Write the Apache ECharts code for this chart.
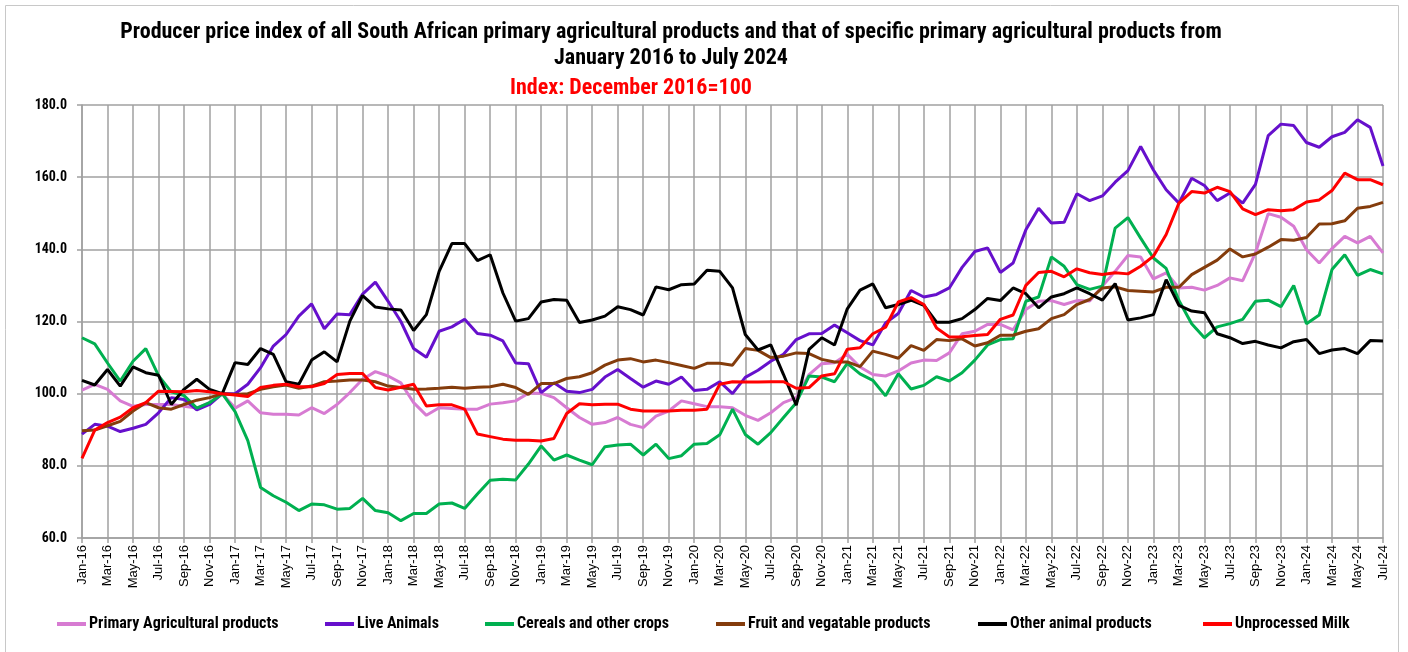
<!DOCTYPE html>
<html>
<head>
<meta charset="utf-8">
<script src="https://cdn.jsdelivr.net/npm/echarts@6/dist/echarts.min.js"></script>
<style>
  html, body { margin: 0; padding: 0; background: #fff; }
  #chart { width: 1408px; height: 652px; }
</style>
</head>
<body>
<div id="chart"></div>
<script>
// Month labels Jan-16 .. Jul-24
const monthNames = ['Jan','Feb','Mar','Apr','May','Jun','Jul','Aug','Sep','Oct','Nov','Dec'];
const months = [];
for (let y = 16; y <= 24; y++) {
  for (let m = 0; m < 12; m++) {
    if (y === 24 && m > 6) break;
    months.push(monthNames[m] + '-' + y);
  }
}

// Index values (December 2016 = 100)
const primaryAgri = [
  101, 102.6, 101.2, 98, 96.5, 97, 97, 97, 96.5, 96, 97.5, 100,
  96, 98, 94.7, 94.3, 94.3, 94.1, 96.1, 94.5, 97, 100.3, 104, 106.1,
  104.9, 103, 97.5, 94, 96.1, 95.9, 95.7, 95.7, 97.1, 97.5, 98, 100.1,
  100.1, 98.9, 96.1, 93.4, 91.5, 92, 93.4, 91.5, 90.6, 93.8, 95.2, 98,
  97.2, 96.4, 96.4, 96.1, 94, 92.6, 94.7, 97.5, 98.9, 105.3, 108.3, 108.6,
  110.9, 107.4, 105.3, 104.9, 106.3, 108.5, 109.3, 109.2, 111.3, 116.6, 117.3, 119.2,
  119.2, 117.7, 123.3, 125.6, 125.8, 124.7, 125.8, 125.7, 129.8, 133.9, 138.3, 137.9,
  131.8, 133.5, 129.3, 129.5, 128.7, 130, 132.1, 131.3, 139, 149.9, 148.9, 146.4,
  139.9, 136.2, 140.2, 143.6, 141.8, 143.6, 139
];
const liveAnimals = [
  88.8, 91.5, 91, 89.5, 90.4, 91.5, 94.7, 98.9, 98.4, 95.5, 97, 100,
  100, 102.6, 107.2, 113.2, 116.4, 121.5, 124.9, 118, 122.1, 121.9, 127.6, 130.9,
  125.6, 120, 112.5, 110.1, 117.3, 118.5, 120.6, 116.7, 116.2, 114.6, 108.5, 108.3,
  100.3, 103, 100.7, 100.3, 101.2, 104.6, 106.7, 104.2, 101.8, 103.5, 102.6, 104.6,
  100.9, 101.2, 103.3, 100, 104.5, 106.5, 109, 110.9, 115, 116.6, 116.7, 119,
  116.9, 114.7, 113.5, 119.6, 122.2, 128.6, 126.8, 127.5, 129.3, 135, 139.4, 140.4,
  133.6, 136.2, 145.4, 151.4, 147.3, 147.5, 155.4, 153.5, 154.8, 158.6, 161.8, 168.5,
  162, 156.5, 152.8, 159.7, 157.7, 153.5, 155.6, 152.8, 158, 171.5, 174.7, 174.3,
  169.6, 168.3, 171.2, 172.4, 175.9, 173.8, 163.1
];
const cereals = [
  115.5, 113.8, 108.5, 103.5, 109, 112.5, 105, 100.5, 99.5, 96, 97.5, 100,
  95, 87, 74, 71.7, 69.9, 67.6, 69.4, 69.2, 68, 68.2, 71, 67.6,
  67, 64.8, 66.8, 66.8, 69.4, 69.7, 68.2, 72.2, 76, 76.3, 76.1, 80.5,
  85.5, 81.6, 83, 81.6, 80.3, 85.3, 85.8, 86, 83, 86, 82, 82.8,
  86, 86.2, 88.6, 95.7, 88.7, 86, 89.2, 93.4, 97.5, 104.9, 104.6, 103.3,
  108.4, 105.5, 103.7, 99.4, 105.5, 101.3, 102.3, 104.7, 103.5, 105.8, 109.3, 113.5,
  115, 115.2, 125.6, 126.8, 137.9, 135.3, 130.2, 128.9, 129.8, 145.9, 148.8, 143.1,
  137.6, 134.7, 125.8, 119.4, 115.5, 118.5, 119.4, 120.6, 125.6, 125.9, 124.1, 130,
  119.4, 121.8, 134.4, 138.5, 132.8, 134.4, 133.2
];
const fruitVeg = [
  89.7, 89.9, 91.1, 92.3, 95.2, 97.5, 96.1, 95.7, 97, 98.2, 98.9, 100,
  99.8, 100, 101.2, 101.9, 102.4, 101.5, 102.1, 103.3, 103.5, 103.8, 103.8, 103.3,
  102.1, 101.7, 101.2, 101.3, 101.5, 101.8, 101.5, 101.8, 101.9, 102.6, 101.7, 99.8,
  102.8, 102.8, 104.2, 104.7, 105.8, 107.9, 109.3, 109.7, 108.8, 109.3, 108.6, 107.8,
  107, 108.4, 108.4, 107.9, 112.5, 112, 110, 110.4, 111.3, 111.1, 109.5, 108.8,
  108.8, 107.5, 111.8, 110.9, 109.8, 113.3, 112, 115, 114.7, 115.2, 113.2, 114.1,
  116.2, 116.2, 117.3, 118, 120.8, 121.9, 124.7, 126.1, 129.3, 129.6, 128.6, 128.4,
  128.2, 129.5, 129.5, 133, 135, 137, 140.1, 137.9, 138.7, 140.6, 142.7, 142.5,
  143.3, 147, 147.1, 147.9, 151.4, 151.9, 153
];
const otherAnimal = [
  103.7, 102.4, 106.7, 102.1, 107.4, 105.8, 105.1, 97, 101.2, 104, 101.2, 100,
  108.6, 108.1, 112.5, 110.9, 103.3, 102.6, 109.3, 111.6, 108.8, 120.1, 127.2, 124,
  123.5, 123.2, 117.5, 121.9, 133.9, 141.6, 141.6, 136.9, 138.5, 127.9, 120.1, 120.8,
  125.4, 126.1, 125.9, 119.7, 120.4, 121.5, 124.1, 123.3, 121.8, 129.6, 128.8, 130.2,
  130.4, 134.2, 133.9, 129.3, 116.4, 112.1, 113.5, 105.3, 96.8, 112.3, 115.5, 113.5,
  123.5, 128.7, 130.4, 123.8, 124.7, 125.9, 124.5, 119.8, 119.8, 120.8, 123.3, 126.4,
  125.8, 129.3, 127.7, 123.8, 126.8, 127.7, 129.3, 127.7, 125.9, 130.5, 120.4, 121,
  121.9, 131.6, 124.5, 122.9, 122.4, 116.6, 115.5, 113.9, 114.5, 113.5, 112.7, 114.4,
  115, 111.1, 112.1, 112.5, 111.1, 114.7, 114.6
];
const milk = [
  82.1, 89.9, 92, 93.5, 96.1, 97.5, 100.7, 100.6, 100.5, 100.9, 100.5, 100,
  99.6, 99.2, 101.7, 102.3, 102.6, 101.9, 101.9, 102.8, 105.3, 105.6, 105.6, 101.7,
  101, 101.8, 102.6, 96.6, 96.9, 96.9, 95.7, 88.8, 88.1, 87.4, 87.1, 87.1,
  86.9, 87.6, 94.5, 97.2, 96.9, 97.1, 97.1, 95.7, 95.2, 95.2, 95.2, 95.4,
  95.4, 95.7, 102.6, 103.3, 103.2, 103.2, 103.3, 103.3, 101.5, 101.7, 104.9, 105.5,
  112.3, 112.7, 116.6, 118.4, 125.4, 126.6, 124.7, 118.2, 115.7, 115.8, 116.1, 116.4,
  120.6, 121.8, 130, 133.6, 133.9, 132.4, 134.6, 133.5, 133, 133.5, 133.2, 135.3,
  138.1, 144.1, 152.8, 156, 155.6, 157.2, 156, 151.2, 149.6, 151, 150.7, 151,
  153.1, 153.7, 156.3, 161.1, 159.3, 159.3, 157.9
];

const seriesNames = [
  'Primary Agricultural products', 'Live Animals', 'Cereals and other crops',
  'Fruit and vegatable products', 'Other animal products', 'Unprocessed Milk'
];
const seriesData = [primaryAgri, liveAnimals, cereals, fruitVeg, otherAnimal, milk];
const seriesColors = ['#D77BD2', '#6610CC', '#00B050', '#843C0C', '#000000', '#FF0000'];
const legendLeft = [57, 325, 485, 716, 978, 1203];

const narrow = "'Liberation Sans Narrow', 'Arial Narrow', 'Roboto Condensed', 'DejaVu Sans Condensed', sans-serif";
const gridColor = '#A0A0A0';

const chart = echarts.init(document.getElementById('chart'), null, { renderer: 'canvas' });

const option = {
  backgroundColor: '#fff',
  animation: false,
  title: [
    {
      text: 'Producer price index of all South African primary agricultural products and that of specific primary agricultural products from\nJanuary 2016 to July 2024',
      left: 671, top: 19, textAlign: 'center', padding: 0,
      textStyle: { fontFamily: narrow, fontWeight: 'bold', fontSize: 22, lineHeight: 26, color: '#000' }
    },
    {
      text: 'Index: December 2016=100',
      left: 631, top: 76, textAlign: 'center', padding: 0,
      textStyle: { fontFamily: narrow, fontWeight: 'bold', fontSize: 22, lineHeight: 24, color: '#FF0000' }
    }
  ],
  legend: seriesNames.map((n, k) => ({
    data: [n],
    left: legendLeft[k], top: 616, padding: 0,
    icon: 'rect', itemWidth: 29, itemHeight: 4, itemGap: 4,
    textStyle: { fontFamily: narrow, fontWeight: 'bold', fontSize: 16, lineHeight: 16, color: '#000', padding: [0, 0, 0, -2] }
  })),
  grid: { left: 82, right: 25, top: 105, bottom: 114, containLabel: false },
  xAxis: {
    type: 'category',
    data: months,
    boundaryGap: false,
    axisLine: { show: true, lineStyle: { color: gridColor, width: 1.5 } },
    axisTick: { show: true, interval: 1, length: 5, lineStyle: { color: gridColor, width: 1.5 } },
    axisLabel: { interval: 1, rotate: 90, fontFamily: 'Liberation Sans, Arial, sans-serif', fontSize: 13, color: '#000', margin: 7 },
    splitLine: { show: true, interval: 1, lineStyle: { color: gridColor, width: 1.5 } }
  },
  yAxis: {
    type: 'value',
    min: 60, max: 180, interval: 20,
    axisLine: { show: true, lineStyle: { color: gridColor, width: 1.5 } },
    axisTick: { show: true, length: 5, lineStyle: { color: gridColor, width: 1.5 } },
    axisLabel: {
      formatter: v => v.toFixed(1),
      fontFamily: narrow, fontWeight: 'bold', fontSize: 14, color: '#000', margin: 15
    },
    splitLine: { show: true, lineStyle: { color: gridColor, width: 1.5 } }
  },
  graphic: [
    { type: 'rect', shape: { x: 5.5, y: 5.5, width: 1393, height: 660 }, style: { fill: 'none', stroke: '#C8C8C8', lineWidth: 1 }, silent: true }
  ],
  series: seriesNames.map((n, k) => ({
    name: n,
    type: 'line',
    data: seriesData[k],
    color: seriesColors[k],
    showSymbol: false,
    symbol: 'none',
    lineStyle: { width: 3, color: seriesColors[k] },
    z: 2 + k
  }))
};

chart.setOption(option);
</script>
</body>
</html>
